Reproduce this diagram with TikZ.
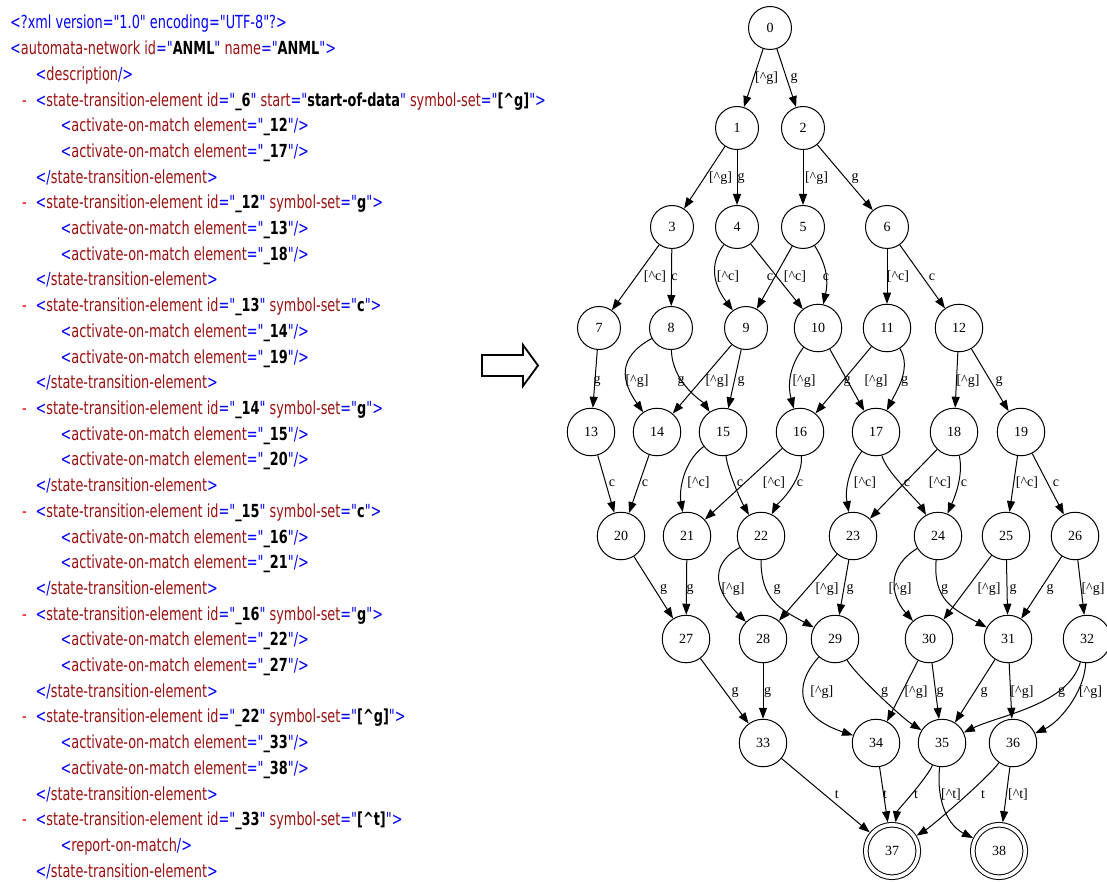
\documentclass[tikz,border=0pt]{standalone}
\usepackage{fontspec}
\setmainfont{DejaVu Sans}[FakeStretch=0.715, Ligatures=TeXOff]
\newfontfamily\gvfont{Liberation Serif}
\usetikzlibrary{arrows.meta}
\definecolor{xblue}{HTML}{0000FF}
\definecolor{xred}{HTML}{9A1010}
\definecolor{xdash}{HTML}{FF0000}
\newcommand{\xb}[1]{\textcolor{xblue}{#1}}
\newcommand{\xr}[1]{\textcolor{xred}{#1}}
\newcommand{\xv}[1]{\textbf{#1}}
\newcommand{\ste}[2]{\xb{<}\xr{state-transition-element id}\xb{="}\xv{\_#1}\xb{"} \xr{symbol-set}\xb{="}\xv{#2}\xb{">}}
\newcommand{\aom}[1]{\xb{<}\xr{activate-on-match element}\xb{="}\xv{\_#1}\xb{"/>}}
\newcommand{\cste}{\xb{</}\xr{state-transition-element}\xb{>}}
\newcommand{\notg}{[\textasciicircum g]}
\newcommand{\notc}{[\textasciicircum c]}
\newcommand{\nott}{[\textasciicircum t]}
\begin{document}
\begin{tikzpicture}[x=1pt,y=-1pt,
 xml/.style={anchor=base west, inner sep=0pt, font=\fontsize{18}{20}\selectfont},
 dsh/.style={xml, text=xdash},
 st/.style={circle, draw, line width=1pt, minimum size=43pt, inner sep=0pt, font=\gvfont\fontsize{14}{16}\selectfont},
 st2/.style={st, minimum size=47.5pt},
 acc/.style={st, double, double distance=3.6pt, minimum size=52.5pt, outer sep=2.8pt},
 lbl/.style={inner sep=0pt, font=\gvfont\fontsize{14}{16}\selectfont},
 tr/.style={line width=1pt, -{Triangle[length=11pt,width=8pt]}},
 bigarrow/.style={line width=1.8pt, line join=miter}
]
\fill[white] (0,0) rectangle (1107,882);
\useasboundingbox (0,0) rectangle (1107,882);

% ---------- XML listing ----------
\node[xml] (t1) at (10,29) {\xb{<?xml version="1.0" encoding="UTF-8"?>}};
\node[xml] (t2) at (10,54.7) {\xb{<}\xr{automata-network id}\xb{="}\xv{ANML}\xb{"} \xr{name}\xb{="}\xv{ANML}\xb{">}};
\node[xml] (t3) at (35.5,80.4) {\xb{<}\xr{description}\xb{/>}};
\node[dsh] (d4) at (22,106.1) {-};
\node[xml] (t4) at (35.5,106.1) {\xb{<}\xr{state-transition-element id}\xb{="}\xv{\_6}\xb{"} \xr{start}\xb{="}\xv{start-of-data}\xb{"} \xr{symbol-set}\xb{="}\xv{\notg}\xb{">}};
\node[xml] (t5) at (60.4,131.8) {\aom{12}};
\node[xml] (t6) at (60.4,157.5) {\aom{17}};
\node[xml] (t7) at (35.5,183.2) {\cste};
\node[dsh] (d8) at (22,208.9) {-};
\node[xml] (t8) at (35.5,208.9) {\ste{12}{g}};
\node[xml] (t9) at (60.4,234.6) {\aom{13}};
\node[xml] (t10) at (60.4,260.3) {\aom{18}};
\node[xml] (t11) at (35.5,286) {\cste};
\node[dsh] (d12) at (22,311.7) {-};
\node[xml] (t12) at (35.5,311.7) {\ste{13}{c}};
\node[xml] (t13) at (60.4,337.4) {\aom{14}};
\node[xml] (t14) at (60.4,363.1) {\aom{19}};
\node[xml] (t15) at (35.5,388.8) {\cste};
\node[dsh] (d16) at (22,414.5) {-};
\node[xml] (t16) at (35.5,414.5) {\ste{14}{g}};
\node[xml] (t17) at (60.4,440.2) {\aom{15}};
\node[xml] (t18) at (60.4,465.9) {\aom{20}};
\node[xml] (t19) at (35.5,491.6) {\cste};
\node[dsh] (d20) at (22,517.3) {-};
\node[xml] (t20) at (35.5,517.3) {\ste{15}{c}};
\node[xml] (t21) at (60.4,543) {\aom{16}};
\node[xml] (t22) at (60.4,568.7) {\aom{21}};
\node[xml] (t23) at (35.5,594.4) {\cste};
\node[dsh] (d24) at (22,620.1) {-};
\node[xml] (t24) at (35.5,620.1) {\ste{16}{g}};
\node[xml] (t25) at (60.4,645.8) {\aom{22}};
\node[xml] (t26) at (60.4,671.5) {\aom{27}};
\node[xml] (t27) at (35.5,697.2) {\cste};
\node[dsh] (d28) at (22,722.9) {-};
\node[xml] (t28) at (35.5,722.9) {\ste{22}{\notg}};
\node[xml] (t29) at (60.4,748.6) {\aom{33}};
\node[xml] (t30) at (60.4,774.3) {\aom{38}};
\node[xml] (t31) at (35.5,800) {\cste};
\node[dsh] (d32) at (22,825.7) {-};
\node[xml] (t32) at (35.5,825.7) {\ste{33}{\nott}};
\node[xml] (t33) at (60.4,851.4) {\xb{<}\xr{report-on-match}\xb{/>}};
\node[xml] (t34) at (35.5,877.1) {\cste};

% ---------- hollow arrow ----------
\draw[bigarrow] (482,355) -- (523,355) -- (523,345) -- (538,365.5) -- (523,386) -- (523,376) -- (482,376) -- cycle;

% ---------- states ----------
\node[st] (n0) at (770,28) {0};
\node[st] (n1) at (737,128) {1};
\node[st] (n2) at (803,128) {2};
\node[st] (n3) at (672,227) {3};
\node[st] (n4) at (737,227) {4};
\node[st] (n5) at (803,227) {5};
\node[st] (n6) at (887,227) {6};
\node[st] (n7) at (599,328) {7};
\node[st] (n8) at (671,328) {8};
\node[st] (n9) at (746,328) {9};
\node[st2] (n10) at (818,328) {10};
\node[st2] (n11) at (887,328) {11};
\node[st2] (n12) at (959,328) {12};
\node[st2] (n13) at (591,432) {13};
\node[st2] (n14) at (657,432) {14};
\node[st2] (n15) at (723,432) {15};
\node[st2] (n16) at (800,432) {16};
\node[st2] (n17) at (876,432) {17};
\node[st2] (n18) at (954,432) {18};
\node[st2] (n19) at (1021,432) {19};
\node[st2] (n20) at (621,536) {20};
\node[st2] (n21) at (687,536) {21};
\node[st2] (n22) at (761,536) {22};
\node[st2] (n23) at (853,536) {23};
\node[st2] (n24) at (938,536) {24};
\node[st2] (n25) at (1006,536) {25};
\node[st2] (n26) at (1075,536) {26};
\node[st2] (n27) at (686,639) {27};
\node[st2] (n28) at (763,639) {28};
\node[st2] (n29) at (835,639) {29};
\node[st2] (n30) at (929,639) {30};
\node[st2] (n31) at (1008,639) {31};
\node[st2] (n32) at (1087,639) {32};
\node[st2] (n33) at (763,743) {33};
\node[st2] (n34) at (876,743) {34};
\node[st2] (n35) at (942,743) {35};
\node[st2] (n36) at (1013,743) {36};
\node[acc] (n37) at (892,851) {37};
\node[acc] (n38) at (999,851) {38};

% ---------- transitions ----------
\draw[tr] (n0) -- (n1);
\draw[tr] (n0) -- (n2);
\draw[tr] (n1) -- (n3);
\draw[tr] (n1) -- (n4);
\draw[tr] (n2) -- (n5);
\draw[tr] (n2) -- (n6);
\draw[tr] (n3) -- (n7);
\draw[tr] (n3) -- (n8);
\draw[tr] (n4) .. controls +(-30,40) and +(-30,-40) .. (n9);
\draw[tr] (n4) -- (n10);
\draw[tr] (n5) -- (n9);
\draw[tr] (n5) .. controls +(25,40) and +(10,-45) .. (n10);
\draw[tr] (n6) -- (n11);
\draw[tr] (n6) -- (n12);
\draw[tr] (n7) -- (n13);
\draw[tr] (n8) .. controls +(-55,30) and +(-35,-50) .. (n14);
\draw[tr] (n8) .. controls +(1,55) and +(-20,-30) .. (n15);
\draw[tr] (n9) -- (n14);
\draw[tr] (n9) -- (n15);
\draw[tr] (n10) .. controls +(-30,40) and +(-12,-45) .. (n16);
\draw[tr] (n10) -- (n17);
\draw[tr] (n11) -- (n16);
\draw[tr] (n11) .. controls +(25,40) and +(20,-40) .. (n17);
\draw[tr] (n12) -- (n18);
\draw[tr] (n12) -- (n19);
\draw[tr] (n13) -- (n20);
\draw[tr] (n14) -- (n20);
\draw[tr] (n15) .. controls +(-40,30) and +(-8,-45) .. (n21);
\draw[tr] (n15) .. controls +(5,40) and +(-20,-35) .. (n22);
\draw[tr] (n16) -- (n21);
\draw[tr] (n16) .. controls +(3,50) and +(15,-30) .. (n22);
\draw[tr] (n17) .. controls +(-28,38) and +(-8,-45) .. (n23);
\draw[tr] (n17) .. controls +(10,40) and +(-20,-35) .. (n24);
\draw[tr] (n18) -- (n23);
\draw[tr] (n18) .. controls +(10,45) and +(15,-35) .. (n24);
\draw[tr] (n19) -- (n25);
\draw[tr] (n19) -- (n26);
\draw[tr] (n20) -- (n27);
\draw[tr] (n21) -- (n27);
\draw[tr] (n22) .. controls +(-55,30) and +(-45,-45) .. (n28);
\draw[tr] (n22) .. controls +(0,64) and +(-55,-30) .. (n29);
\draw[tr] (n23) -- (n28);
\draw[tr] (n23) -- (n29);
\draw[tr] (n24) .. controls +(-50,30) and +(-40,-45) .. (n30);
\draw[tr] (n24) .. controls +(-5,64) and +(-55,-30) .. (n31);
\draw[tr] (n25) -- (n30);
\draw[tr] (n25) -- (n31);
\draw[tr] (n26) -- (n31);
\draw[tr] (n26) -- (n32);
\draw[tr] (n27) -- (n33);
\draw[tr] (n28) -- (n33);
\draw[tr] (n29) .. controls +(-45,50) and +(-75,-25) .. (n34);
\draw[tr] (n29) .. controls +(20,35) and +(-40,-25) .. (n35);
\draw[tr] (n30) -- (n34);
\draw[tr] (n30) -- (n35);
\draw[tr] (n31) -- (n35);
\draw[tr] (n31) -- (n36);
\draw[tr] (n32) .. controls +(-19,66) and +(58,-28) .. (n35);
\draw[tr] (n32) .. controls +(-3,55) and +(45,-20) .. (n36);
\draw[tr] (n33) -- (n37);
\draw[tr] (n34) -- (n37);
\draw[tr] (n35) .. controls +(-15,35) and +(5,-40) .. (n37);
\draw[tr] (n35) .. controls +(-6,60) and +(-50,-25) .. (n38);
\draw[tr] (n36) .. controls +(-25,35) and +(40,-25) .. (n37);
\draw[tr] (n36) -- (n38);

% ---------- labels ----------
\node[lbl] (a01) at (766.6,78) {\notg};
\node[lbl] (a02) at (794,78) {g};
\node[lbl] (a13) at (720.5,178) {\notg};
\node[lbl] (a14) at (741,178) {g};
\node[lbl] (a25) at (816.5,178) {\notg};
\node[lbl] (a26) at (855,178) {g};
\node[lbl] (a37) at (655,277) {\notc};
\node[lbl] (a38) at (674.5,277) {c};
\node[lbl] (a49) at (728,277) {\notc};
\node[lbl] (a410) at (770,277) {c};
\node[lbl] (a59) at (795,277) {\notc};
\node[lbl] (a510) at (826,277) {c};
\node[lbl] (a611) at (898,277) {\notc};
\node[lbl] (a612) at (932,277) {c};
\node[lbl] (a713) at (597,381) {g};
\node[lbl] (a814) at (637,381) {\notg};
\node[lbl] (a815) at (681,381) {g};
\node[lbl] (a914) at (717,381) {\notg};
\node[lbl] (a915) at (741,381) {g};
\node[lbl] (a1016) at (804,381) {\notg};
\node[lbl] (a1017) at (847,381) {g};
\node[lbl] (a1116) at (876,381) {\notg};
\node[lbl] (a1117) at (904.5,381) {g};
\node[lbl] (a1218) at (968,381) {\notg};
\node[lbl] (a1219) at (999,381) {g};
\node[lbl] (a1320) at (612,483) {c};
\node[lbl] (a1420) at (645,483) {c};
\node[lbl] (a1521) at (698.5,483) {\notc};
\node[lbl] (a1522) at (740,483) {c};
\node[lbl] (a1621) at (774,483) {\notc};
\node[lbl] (a1622) at (800,483) {c};
\node[lbl] (a1723) at (865,483) {\notc};
\node[lbl] (a1724) at (907,483) {c};
\node[lbl] (a1823) at (940,483) {\notc};
\node[lbl] (a1824) at (964,483) {c};
\node[lbl] (a1925) at (1027,483) {\notc};
\node[lbl] (a1926) at (1056,483) {c};
\node[lbl] (a2027) at (663.6,589) {g};
\node[lbl] (a2127) at (690,589) {g};
\node[lbl] (a2228) at (733,589) {\notg};
\node[lbl] (a2229) at (777,589) {g};
\node[lbl] (a2328) at (827,589) {\notg};
\node[lbl] (a2329) at (850,589) {g};
\node[lbl] (a2430) at (900,589) {\notg};
\node[lbl] (a2431) at (944.6,589) {g};
\node[lbl] (a2530) at (989,589) {\notg};
\node[lbl] (a2531) at (1013,589) {g};
\node[lbl] (a2631) at (1050,589) {g};
\node[lbl] (a2632) at (1093,589) {\notg};
\node[lbl] (a2733) at (735,692) {g};
\node[lbl] (a2833) at (767.7,692) {g};
\node[lbl] (a2934) at (821.8,692) {\notg};
\node[lbl] (a2935) at (884.6,692) {g};
\node[lbl] (a3034) at (916,692) {\notg};
\node[lbl] (a3035) at (940,692) {g};
\node[lbl] (a3135) at (984,692) {g};
\node[lbl] (a3136) at (1022,692) {\notg};
\node[lbl] (a3235) at (1061.5,692) {g};
\node[lbl] (a3236) at (1090.5,692) {\notg};
\node[lbl] (a3337) at (836.8,795) {t};
\node[lbl] (a3437) at (885,795) {t};
\node[lbl] (a3537) at (916,795) {t};
\node[lbl] (a3538) at (951,795) {\nott};
\node[lbl] (a3637) at (983,795) {t};
\node[lbl] (a3638) at (1018,795) {\nott};
\end{tikzpicture}
\end{document}
